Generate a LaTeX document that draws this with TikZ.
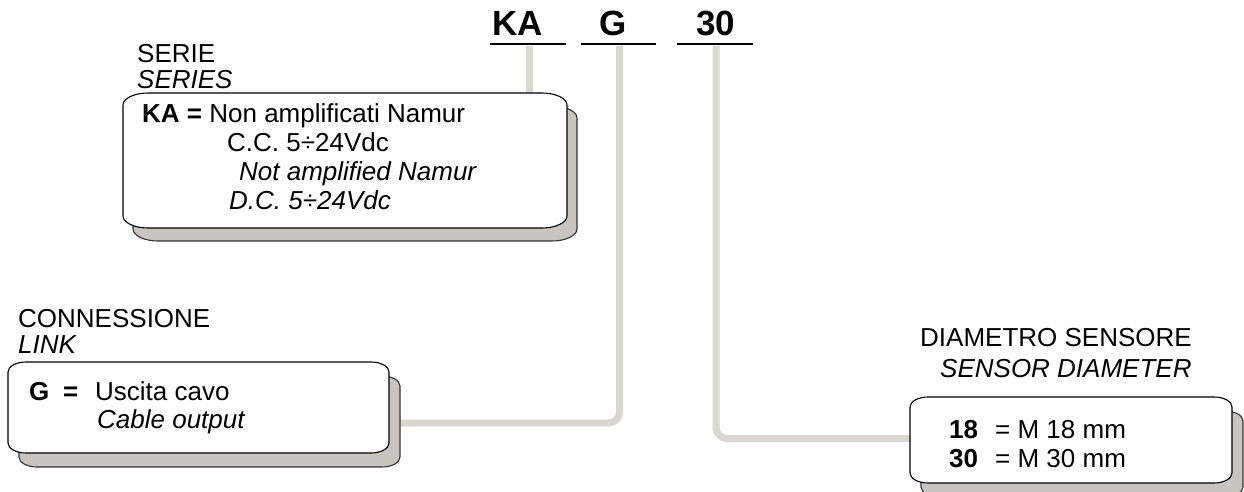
\documentclass[tikz,border=0pt]{standalone}
\usepackage{fontspec}
\setmainfont{Liberation Sans}
\definecolor{conncol}{RGB}{218,214,210}
\definecolor{shadowcol}{RGB}{200,196,192}
\newcommand\tagpath[6]{(#1,{#2+#6}) .. controls (#1,{#2+0.45*#6}) and ({#1+0.45*#5},#2) .. ({#1+#5},#2) -- ({#3-#5},#2) .. controls ({#3-0.45*#5},#2) and (#3,{#2+0.45*#6}) .. (#3,{#2+#6}) -- (#3,{#4-#6}) .. controls (#3,{#4-0.45*#6}) and ({#3-0.45*#5},#4) .. ({#3-#5},#4) -- ({#1+#5},#4) .. controls ({#1+0.45*#5},#4) and (#1,{#4-0.45*#6}) .. (#1,{#4-#6}) -- cycle}
\tikzset{
  txt/.style={anchor=base west, inner sep=0pt, font=\fontsize{26}{30}\selectfont},
  code/.style={inner sep=0pt, font=\fontsize{35}{40}\selectfont\bfseries},
  uline/.style={line width=2.4pt, black},
  conn/.style={line width=7pt, conncol},
  boxline/.style={draw=black, line width=1.1pt, fill=white},
  shadowline/.style={draw=black!80, line width=1.1pt, fill=shadowcol},
  frame/.style={draw=none, inner sep=0pt, anchor=north west}
}
\begin{document}
\begin{tikzpicture}[x=1pt,y=-1pt]
\useasboundingbox (0,0) rectangle (1244,492);

% code letters
\node[code, anchor=base west] (kacode) at (492,36) {KA};
\node[code, anchor=base] (gcode) at (613,36) {G};
\node[code, anchor=base] (tcode) at (715.5,36) {30};
\coordinate (kaL) at (490,44); \coordinate (kaR) at (566,44);
\coordinate (gL) at (581,44);  \coordinate (gR) at (656,44);
\coordinate (tL) at (677,44);  \coordinate (tR) at (753,44);
\draw[uline] (kaL) -- (kaR);
\draw[uline] (gL) -- (gR);
\draw[uline] (tL) -- (tR);
\coordinate (kafoot) at (529,46);
\coordinate (gfoot) at (619.5,46);
\coordinate (tfoot) at (716,46);

% box frames (names)
\node[frame, minimum width=444pt, minimum height=135pt] (seriesbox) at (123,93) {};
\node[frame, minimum width=381pt, minimum height=91pt] (gbox) at (8,362) {};
\node[frame, minimum width=322pt, minimum height=86pt] (dbox) at (910,397) {};
\coordinate (gin) at (400,423);
\coordinate (din) at (910,438.5);

% connectors
\draw[conn] (kafoot) -- (kafoot |- seriesbox.north);
\draw[conn, rounded corners=11pt] (gfoot) |- (gin);
\draw[conn, rounded corners=11pt] (tfoot) |- (din);

% boxes with shadows
\draw[shadowline] \tagpath{133}{106}{577}{241}{25}{12};
\draw[boxline] \tagpath{123}{93}{567}{228}{25}{12};
\draw[shadowline] \tagpath{19}{376}{400}{467}{18}{10};
\draw[boxline] \tagpath{8}{362}{389}{453}{18}{10};
\draw[shadowline] \tagpath{921}{411}{1243}{497}{18}{10};
\draw[boxline] \tagpath{910}{397}{1232}{483}{18}{10};

% series texts
\node[txt] (serie) at (137,63) {SERIE};
\node[txt] (series) at (137,89) {\itshape SERIES};
\node[txt] (ka1) at (142,122) {\bfseries KA =\mdseries{} Non amplificati Namur};
\node[txt] (ka2) at (227,151) {C.C. 5÷24Vdc};
\node[txt] (ka3) at (239,180) {\itshape Not amplified Namur};
\node[txt] (ka4) at (229,209) {\itshape D.C. 5÷24Vdc};

% connection texts
\node[txt] (conn1) at (18,327) {CONNESSIONE};
\node[txt] (conn2) at (18,353) {\itshape LINK};
\node[txt] (g1a) at (29,400) {\bfseries G};
\node[txt] (g1b) at (63,400) {\bfseries =};
\node[txt] (g1c) at (95,400) {Uscita cavo};
\node[txt] (g2) at (97,428) {\itshape Cable output};

% diameter texts
\node[txt] (d1) at (920,346) {DIAMETRO SENSORE};
\node[txt] (d2) at (940,377) {\itshape SENSOR DIAMETER};
\node[txt] (d3a) at (949,438) {\bfseries 18};
\node[txt] (d3b) at (995,438) {= M 18 mm};
\node[txt] (d4a) at (949,467) {\bfseries 30};
\node[txt] (d4b) at (995,467) {= M 30 mm};
\end{tikzpicture}
\end{document}
